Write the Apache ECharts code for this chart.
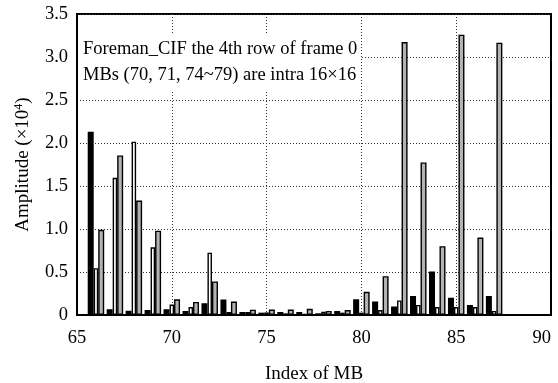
<!DOCTYPE html>
<html>
<head>
<meta charset="utf-8">
<script src="https://cdn.jsdelivr.net/npm/echarts@6/dist/echarts.min.js"></script>
<style>
  html, body { margin: 0; padding: 0; background: #fff; }
  #chart { width: 558px; height: 383px; }
</style>
</head>
<body>
<div id="chart"></div>
<script>
// MB index along the x axis (65..90), bars exist for 66..87
const mbIndex = ['65', '66', '67', '68', '69', '70', '71', '72', '73', '74', '75', '76', '77',
	'78', '79', '80', '81', '82', '83', '84', '85', '86', '87', '88', '89', '90'];

// amplitude (x10^4), one entry per MB index
const blackBars = [null, 2.13, 0.067, 0.05, 0.058, 0.066, 0.047, 0.137, 0.18, 0.035, 0.027, 0.035, 0.035,
	0.02, 0.047, 0.183, 0.157, 0.1, 0.22, 0.505, 0.2, 0.117, 0.22, null, null, null];
const whiteBars = [null, 0.545, 1.595, 2.015, 0.787, 0.122, 0.093, 0.725, 0.035, 0.035, 0.03, 0.02, 0.015,
	0.038, 0.027, 0.027, 0.057, 0.17, 0.117, 0.093, 0.093, 0.093, 0.047, null, null, null];
const grayBars = [null, 0.99, 1.855, 1.33, 0.98, 0.182, 0.152, 0.39, 0.157, 0.062, 0.064, 0.064, 0.072,
	0.047, 0.058, 0.27, 0.452, 3.174, 1.774, 0.8, 3.26, 0.9, 3.166, null, null, null];

const yTickLabels = ['0', '0.5', '1.0', '1.5', '2.0', '2.5', '3.0', '3.5'];
const noteLines = ['Foreman_CIF the 4th row of frame 0', 'MBs (70, 71, 74~79) are intra 16×16'];

const FONT = '"Liberation Serif", "Times New Roman", serif';

const chart = echarts.init(document.getElementById('chart'));

function barSeries(name, data, color, width) {
	return {
		name: name,
		type: 'bar',
		data: data,
		barWidth: width,
		barGap: '0%',
		itemStyle: { color: color, borderColor: '#000', borderWidth: 1.4 },
		emphasis: { disabled: true },
	};
}

chart.setOption({
	animation: false,
	textStyle: { fontFamily: FONT },
	title: {
		text: noteLines.join('\n'),
		left: 79,
		top: 34,
		padding: [2, 3, 4, 4],
		backgroundColor: '#fff',
		textStyle: { fontFamily: FONT, fontSize: 18.5, fontWeight: 'normal', color: '#000', lineHeight: 26 },
	},
	grid: {
		left: 77, right: 7, top: 14, bottom: 68,
		outerBoundsMode: 'none',
		containLabel: false,
		show: true, borderColor: '#000', borderWidth: 2, backgroundColor: 'transparent',
	},
	xAxis: {
		type: 'category',
		data: mbIndex,
		boundaryGap: false,
		name: 'Index of MB',
		nameLocation: 'middle',
		nameGap: 50,
		nameTextStyle: { fontFamily: FONT, fontSize: 19, color: '#000' },
		axisLine: { lineStyle: { color: '#000', width: 2 } },
		axisTick: { show: false },
		axisLabel: {
			interval: (i) => i % 5 === 0,
			margin: 14,
			alignMaxLabel: 'right',
			fontFamily: FONT, fontSize: 18.5, color: '#000',
		},
		splitLine: {
			show: true,
			interval: (i) => i % 5 === 0 && i > 0 && i < mbIndex.length - 1,
			lineStyle: { color: '#333', type: [1, 2], width: 1 },
		},
	},
	yAxis: {
		type: 'value',
		min: 0,
		max: 3.5,
		interval: 0.5,
		name: '{a|Amplitude (×10}{s|4}{a|)}',
		nameLocation: 'middle',
		nameGap: 44,
		nameTextStyle: {
			color: '#000',
			rich: {
				a: { fontFamily: FONT, fontSize: 19, color: '#000', lineHeight: 20 },
				s: { fontFamily: FONT, fontSize: 12, color: '#000', verticalAlign: 'top', lineHeight: 20, padding: [0, 0, 8, 0] },
			},
		},
		axisLine: { show: true, lineStyle: { color: '#000', width: 2 } },
		axisTick: { show: false },
		axisLabel: {
			margin: 9,
			fontFamily: FONT, fontSize: 18.5, color: '#000',
			formatter: (v) => yTickLabels[Math.round(v / 0.5)],
		},
		splitLine: {
			show: true,
			lineStyle: { color: '#333', type: [1, 2], width: 1 },
		},
	},
	series: [
		barSeries('black', blackBars, '#000', 6),
		barSeries('white', whiteBars, '#fff', 4.5),
		barSeries('gray', grayBars, '#b3b3b3', 6),
	],
});
</script>
</body>
</html>
